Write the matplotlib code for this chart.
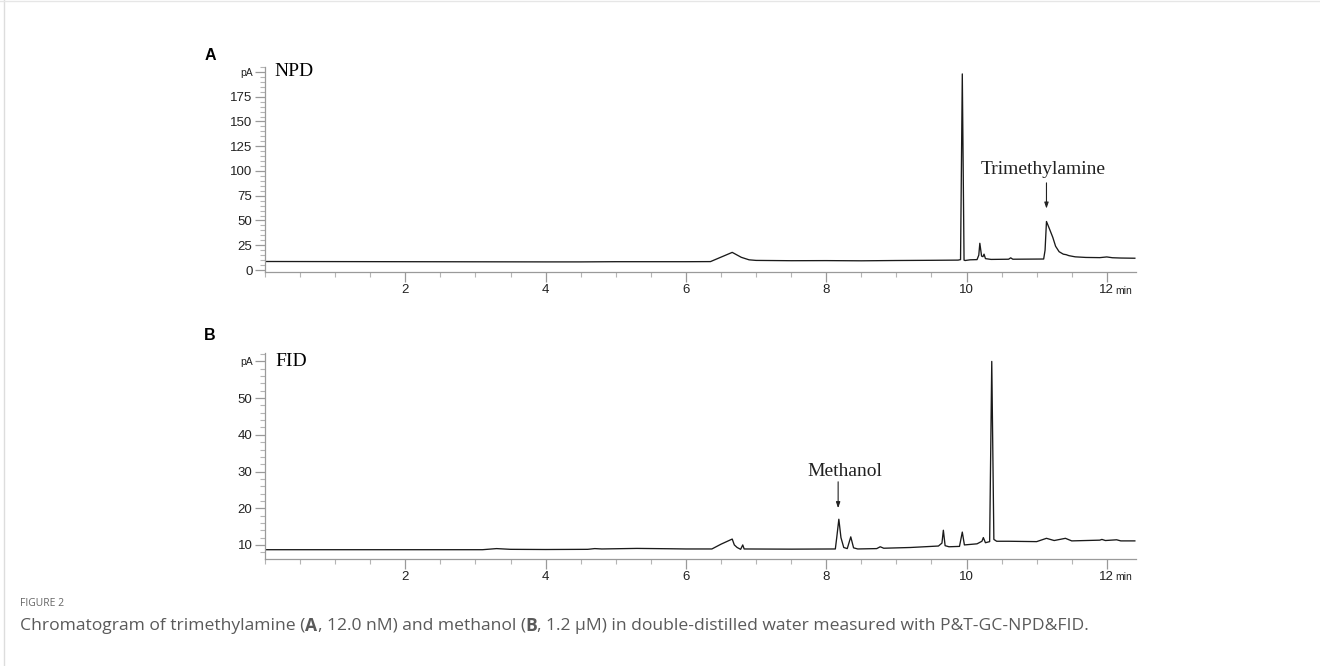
import matplotlib
matplotlib.use("Agg")
import matplotlib.pyplot as plt
from matplotlib.ticker import MultipleLocator, FixedLocator
from matplotlib.transforms import blended_transform_factory
from matplotlib.lines import Line2D

# NPD trace (panel A): time (min), signal (pA)
npd_t = [0.0, 1.0, 2.0, 3.0, 4.0, 4.5, 5.0, 6.0, 6.35, 6.45, 6.55, 6.66, 6.72,
         6.79, 6.9, 7.0, 7.5, 8.0, 8.5, 9.0, 9.5, 9.88, 9.915, 9.94, 9.965,
         9.98, 10.05, 10.15, 10.175, 10.19, 10.215, 10.235, 10.25, 10.27, 10.35,
         10.6, 10.63, 10.66, 11.1, 11.12, 11.14, 11.18, 11.23, 11.27, 11.32,
         11.38, 11.42, 11.46, 11.55, 11.7, 11.9, 12.0, 12.08, 12.2, 12.4]
npd_y = [8.6, 8.5, 8.4, 8.3, 8.2, 8.2, 8.4, 8.4, 8.5, 11.5, 14.5, 17.8, 15.5,
         12.8, 10.3, 9.7, 9.4, 9.5, 9.3, 9.6, 9.8, 10.0, 10.5, 198.0, 10.0,
         9.6, 10.3, 10.5, 15.0, 27.0, 14.0, 13.5, 16.0, 11.5, 10.7,
         10.9, 12.3, 10.9, 11.1, 20.0, 49.0, 42.0, 33.0, 24.0, 18.5,
         16.0, 15.5, 14.5, 13.3, 12.7, 12.5, 13.2, 12.4, 12.1, 11.9]

# FID trace (panel B)
fid_t = [0.0, 1.0, 2.0, 3.1, 3.3, 3.5, 4.0, 4.6, 4.7, 4.8, 5.3, 5.8, 6.0, 6.37,
         6.5, 6.66, 6.69, 6.73, 6.78, 6.81, 6.83, 7.5, 8.13, 8.15, 8.18, 8.21,
         8.25, 8.3, 8.35, 8.39, 8.45, 8.72, 8.77, 8.82, 9.2, 9.6, 9.65, 9.67,
         9.695, 9.75, 9.9, 9.94, 9.97, 10.15, 10.22, 10.24, 10.27, 10.33, 10.36,
         10.39, 10.43, 10.6, 11.0, 11.14, 11.25, 11.41, 11.5, 11.9, 11.93, 11.98,
         12.14, 12.2, 12.4]
fid_y = [8.7, 8.7, 8.7, 8.7, 9.0, 8.8, 8.75, 8.8, 9.0, 8.9, 9.05, 8.95, 8.9, 8.9,
         10.2, 11.6, 10.0, 9.3, 8.8, 10.0, 8.9, 8.85, 8.9, 12.0, 17.0, 12.0,
         9.3, 9.0, 12.2, 9.2, 8.9, 9.0, 9.5, 9.1, 9.3, 9.7, 10.5, 14.0,
         9.8, 9.5, 9.6, 13.5, 10.0, 10.3, 11.0, 12.0, 10.6, 10.9, 60.0,
         11.5, 11.0, 11.0, 10.9, 11.8, 11.2, 11.8, 11.1, 11.3, 11.5, 11.2,
         11.4, 11.1, 11.1]

x_major = [2, 4, 6, 8, 10, 12]
npd_ticks = [0, 25, 50, 75, 100, 125, 150, 175, 200]
fid_ticks = [10, 20, 30, 40, 50, 60]

SANS = "Liberation Sans"
SERIF = "Liberation Serif"
GREY = "#9a9a9a"
TRACE = "#1a1a1a"
TICK_LEN, TICK_PAD, LBL = 7, 2, 9.5

fig = plt.figure(figsize=(13.2, 6.66), dpi=100)


def setup_axes(rect, ylim, yticks, yminor):
    ax = fig.add_axes(rect)
    ax.set_xlim(0, 12.42)
    ax.set_ylim(*ylim)
    for s in ("top", "right"):
        ax.spines[s].set_visible(False)
    for s in ("left", "bottom"):
        ax.spines[s].set_color(GREY)
        ax.spines[s].set_linewidth(0.9)
    ax.xaxis.set_major_locator(FixedLocator(x_major))
    ax.xaxis.set_minor_locator(MultipleLocator(0.5))
    ax.yaxis.set_major_locator(FixedLocator(yticks))
    ax.yaxis.set_minor_locator(MultipleLocator(yminor))
    ax.tick_params(which="major", length=TICK_LEN, width=0.9, color=GREY,
                   labelsize=LBL, labelcolor="#222222", pad=TICK_PAD)
    ax.tick_params(which="minor", length=3.5, width=0.8, color="#b5b5b5")
    ax.set_xticklabels([str(v) for v in x_major], fontfamily=SANS)
    labels = [str(v) for v in yticks[:-1]] + ["pA"]
    ax.set_yticklabels(labels, fontfamily=SANS)
    ax.get_yticklabels()[-1].set_fontsize(7.5)
    # small "min" unit next to the last x tick label, on the same baseline
    tr = blended_transform_factory(ax.transData, ax.transAxes)
    base = -(TICK_LEN + TICK_PAD + 0.716 * LBL)
    ax.annotate("min", xy=(12.12, 0), xycoords=tr, xytext=(0, base),
                textcoords="offset points", fontsize=7.5, fontfamily=SANS,
                color="#222222", ha="left", va="baseline")
    return ax


# Panel A: NPD
axA = setup_axes([0.2008, 0.5916, 0.660, 0.3078], (-2, 205), npd_ticks, 5)
axA.plot(npd_t, npd_y, color=TRACE, lw=0.95)
axA.text(0.13, 200, "NPD", fontsize=14, fontfamily=SERIF, va="center", ha="left")
axA.annotate("", xy=(11.14, 62), xytext=(11.14, 88),
             arrowprops=dict(arrowstyle="-|>,head_length=0.35,head_width=0.12",
                             color="#222222", lw=0.8, shrinkA=0, shrinkB=0))
axA.text(11.1, 101, "Trimethylamine", fontsize=14, fontfamily=SERIF,
         ha="center", va="center", color="#222222")

# Panel B: FID
axB = setup_axes([0.2008, 0.1614, 0.660, 0.3086], (6.3, 62.3), fid_ticks, 2)
axB.plot(fid_t, fid_y, color=TRACE, lw=0.95)
axB.text(0.15, 60, "FID", fontsize=14, fontfamily=SERIF, va="center", ha="left")
axB.annotate("", xy=(8.17, 20), xytext=(8.17, 27.2),
             arrowprops=dict(arrowstyle="-|>,head_length=0.35,head_width=0.12",
                             color="#222222", lw=0.8, shrinkA=0, shrinkB=0))
axB.text(8.26, 29.9, "Methanol", fontsize=14, fontfamily=SERIF,
         ha="center", va="center", color="#222222")

# panel letters
fig.text(210 / 1320, 1 - 55 / 666, "A", fontsize=11.5, fontweight="bold",
         fontfamily=SANS, ha="center", va="center")
fig.text(210 / 1320, 1 - 335 / 666, "B", fontsize=11.5, fontweight="bold",
         fontfamily=SANS, ha="center", va="center")

# card border lines
fig.add_artist(Line2D([0.003, 0.003], [0, 1], transform=fig.transFigure,
                      color="#dddddd", lw=1))
fig.add_artist(Line2D([0, 1], [0.998, 0.998], transform=fig.transFigure,
                      color="#e6e6e6", lw=1))

# caption
CAP = "Open Sans"
fig.text(20 / 1320, 1 - 604 / 666, "FIGURE 2", fontsize=7.5, fontfamily=CAP,
         color="#666666", ha="left", va="center")
pieces = [("Chromatogram of trimethylamine (", "normal"), ("A", "bold"),
          (", 12.0 nM) and methanol (", "normal"), ("B", "bold"),
          (", 1.2 \u03bcM) in double-distilled water measured with P&T-GC-NPD&FID.",
           "normal")]
renderer = fig.canvas.get_renderer()
x_px = 20
for txt, w in pieces:
    t = fig.text(x_px / 1320, 1 - 626 / 666, txt, fontsize=12.6, fontfamily=CAP,
                 fontweight=w, color="#5a5a5a", ha="left", va="center")
    bb = t.get_window_extent(renderer=renderer)
    x_px += bb.width

fig.savefig("out.png", dpi=100)
